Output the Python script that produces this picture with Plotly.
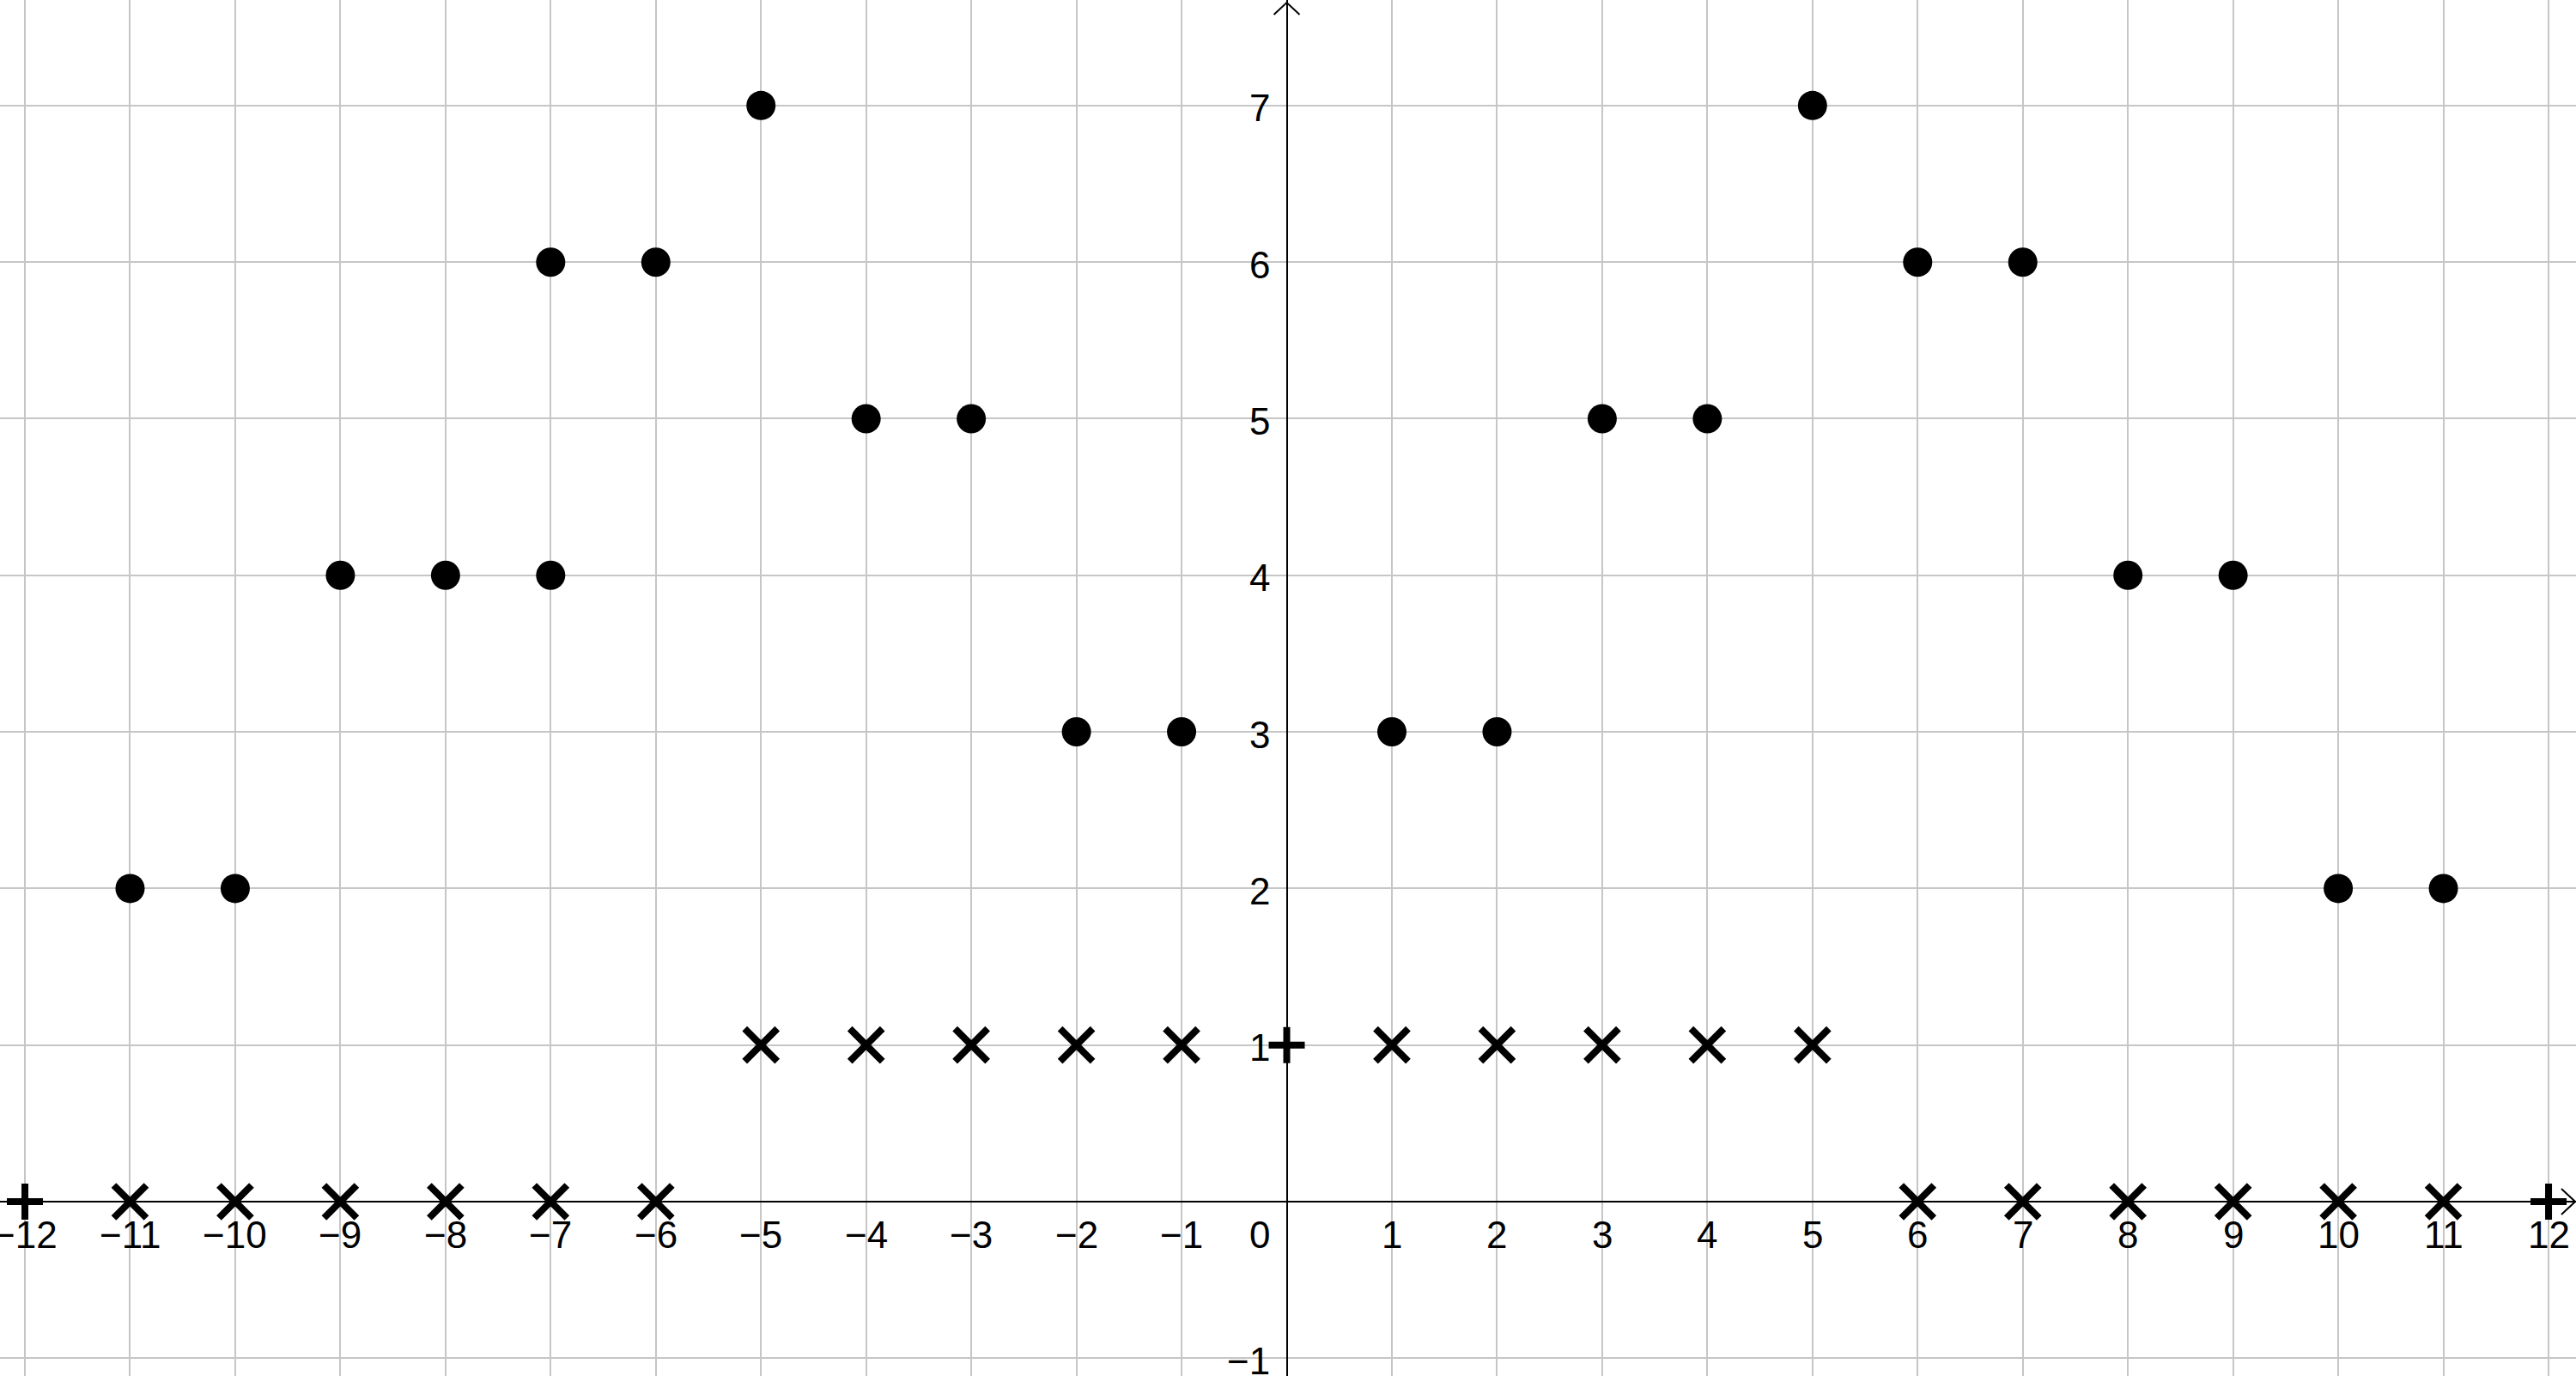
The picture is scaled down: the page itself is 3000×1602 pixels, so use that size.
import plotly.graph_objects as go

# dots (filled circles)
dot_x = [-11, -10, -9, -8, -7, -7, -6, -5, -4, -3, -2, -1, 1, 2, 3, 4, 5, 6, 7, 8, 9, 10, 11]
dot_y = [2, 2, 4, 4, 4, 6, 6, 7, 5, 5, 3, 3, 3, 3, 5, 5, 7, 6, 6, 4, 4, 2, 2]

# crosses (x markers)
cross_x = [-11, -10, -9, -8, -7, -6, -5, -4, -3, -2, -1, 1, 2, 3, 4, 5, 6, 7, 8, 9, 10, 11]
cross_y = [0, 0, 0, 0, 0, 0, 1, 1, 1, 1, 1, 1, 1, 1, 1, 1, 0, 0, 0, 0, 0, 0]

# plus markers
plus_x = [-12, 0, 12]
plus_y = [0, 1, 0]

# axis tick labels
x_ticks = [-12, -11, -10, -9, -8, -7, -6, -5, -4, -3, -2, -1, 1, 2, 3, 4, 5, 6, 7, 8, 9, 10, 11, 12]
y_ticks = [-1, 1, 2, 3, 4, 5, 6, 7]

FONT = dict(family="Arial, Liberation Sans, sans-serif", size=44, color="black")


def lbl(v):
    return str(v).replace("-", "\u2212")


fig = go.Figure()
fig.add_trace(go.Scatter(x=dot_x, y=dot_y, mode="markers",
                         marker=dict(symbol="circle", size=34, color="black"),
                         hoverinfo="skip"))
fig.add_trace(go.Scatter(x=cross_x, y=cross_y, mode="markers",
                         marker=dict(symbol="x-thin", size=38,
                                     line=dict(color="black", width=8)),
                         hoverinfo="skip"))
fig.add_trace(go.Scatter(x=plus_x, y=plus_y, mode="markers",
                         marker=dict(symbol="cross-thin", size=30,
                                     line=dict(color="black", width=8)),
                         hoverinfo="skip"))

annots = []
for v in x_ticks:
    annots.append(dict(x=v, y=0, xref="x", yref="y", text=lbl(v), showarrow=False,
                       xanchor="center", yanchor="top", yshift=-12, font=FONT))
for v in y_ticks:
    annots.append(dict(x=0, y=v, xref="x", yref="y", text=lbl(v), showarrow=False,
                       xanchor="right", yanchor="middle", xshift=-18, yshift=-3, font=FONT))
annots.append(dict(x=0, y=0, xref="x", yref="y", text="0", showarrow=False,
                   xanchor="right", yanchor="top", xshift=-18, yshift=-12, font=FONT))

shapes = [
    # arrow at top of y axis
    dict(type="path", xref="x", yref="paper", xsizemode="pixel", ysizemode="pixel",
         xanchor=0, yanchor=1, path="M -15,-17 L 0,-3 L 15,-17",
         line=dict(color="black", width=2)),
    # arrow at right of x axis
    dict(type="path", xref="paper", yref="y", xsizemode="pixel", ysizemode="pixel",
         xanchor=1, yanchor=0, path="M -17,15 L -1,0 L -17,-15",
         line=dict(color="black", width=2)),
]

axis_common = dict(showgrid=True, gridcolor="#c6c6c6", gridwidth=2,
                   zeroline=True, zerolinecolor="black", zerolinewidth=2,
                   showticklabels=False, ticks="", showline=False, dtick=1, tick0=0,
                   fixedrange=True)

fig.update_layout(
    width=3000, height=1602,
    margin=dict(l=0, r=0, t=0, b=0),
    paper_bgcolor="white", plot_bgcolor="white",
    showlegend=False,
    xaxis=dict(range=[-12.237, 12.261], **axis_common),
    yaxis=dict(range=[-1.1136, 7.674], **axis_common),
    annotations=annots,
    shapes=shapes,
)

fig.write_html("out.html", config={"displayModeBar": False},
               post_script="document.body.style.margin='0';document.body.style.overflow='hidden';")
